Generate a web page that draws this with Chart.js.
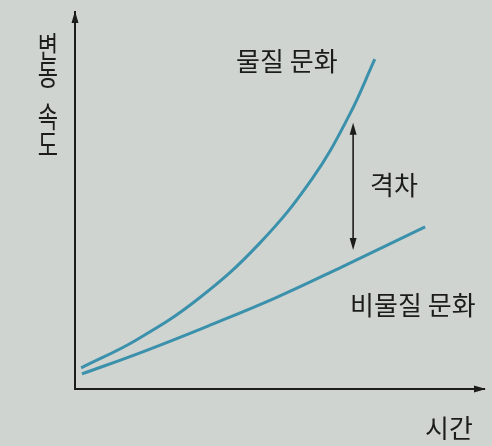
<!DOCTYPE html>
<html>
<head>
<meta charset="utf-8">
<script src="https://cdn.jsdelivr.net/npm/chart.js@4.4.1/dist/chart.umd.min.js"></script>
<style>
  html, body { margin: 0; padding: 0; background: #cfd4d1; }
  #wrap { width: 492px; height: 446px; }
</style>
</head>
<body>
<div id="wrap"><canvas id="chart"></canvas></div>
<script>
// 시간 / 변동 속도 (0~100 상대값)
const materialX   = [1.5, 15, 30, 45, 58, 67, 73.3];
const materialY   = [5.6, 13.0, 23.8, 38.5, 55.8, 72.5, 87.5];
const nonMatX     = [1.7, 16.4, 32.5, 48.9, 65.3, 85.6];
const nonMatY     = [4.0, 9.8, 16.7, 24.1, 32.4, 43.0];

const seriesNames = ['물질 문화', '비물질 문화'];
const gapLabel    = '격차';
const gapX        = 68.0;
const gapRange    = [36.9, 70.6];
const xTitle      = '시간';
const yTitle      = ['변', '동', '', '속', '도'];

const lineColor = '#3b91ab';
const inkColor  = '#1c1c1c';
const font = '"Noto Sans CJK KR", "Noto Sans", sans-serif';

function toPoints(xs, ys) {
    return xs.map((x, i) => ({ x, y: ys[i] }));
}

function arrowHead(ctx, x, y, dir) {
    // dir: 'up' | 'down' | 'right'
    ctx.beginPath();
    if (dir === 'up') {
        ctx.moveTo(x, y); ctx.lineTo(x - 3.5, y + 12); ctx.lineTo(x + 3.5, y + 12);
    } else if (dir === 'down') {
        ctx.moveTo(x, y); ctx.lineTo(x - 3.5, y - 12); ctx.lineTo(x + 3.5, y - 12);
    } else {
        ctx.moveTo(x, y); ctx.lineTo(x - 12, y - 3.5); ctx.lineTo(x - 12, y + 3.5);
    }
    ctx.closePath();
    ctx.fill();
}

const decorations = {
    id: 'decorations',
    afterDraw(chart) {
        const { ctx, chartArea: a, scales: { x, y } } = chart;
        ctx.save();
        ctx.fillStyle = inkColor;
        ctx.strokeStyle = inkColor;

        // axis arrowheads
        arrowHead(ctx, a.left, a.top - 1, 'up');
        ctx.lineWidth = 2;
        ctx.beginPath();
        ctx.moveTo(a.right - 4, a.bottom);
        ctx.lineTo(a.right + 1, a.bottom);
        ctx.stroke();
        arrowHead(ctx, a.right + 2, a.bottom, 'right');

        // gap arrow
        const gx = x.getPixelForValue(gapX);
        const gTop = y.getPixelForValue(gapRange[1]);
        const gBot = y.getPixelForValue(gapRange[0]);
        ctx.lineWidth = 1.6;
        ctx.beginPath();
        ctx.moveTo(gx, gTop + 8);
        ctx.lineTo(gx, gBot - 8);
        ctx.stroke();
        arrowHead(ctx, gx, gTop, 'up');
        arrowHead(ctx, gx, gBot, 'down');

        // text labels
        ctx.font = '26px ' + font;
        ctx.textAlign = 'center';
        ctx.textBaseline = 'middle';
        ctx.fillText(seriesNames[0], x.getPixelForValue(51.8), y.getPixelForValue(87.0));
        ctx.fillText(seriesNames[1], x.getPixelForValue(82.6), y.getPixelForValue(22.3));
        ctx.fillText(gapLabel, x.getPixelForValue(78.0), y.getPixelForValue(54.1));

        ctx.fillText(xTitle, a.right - 35, a.bottom + 39);

        // vertical y title, upright characters (slightly narrow and tall)
        let ty = a.top + 35;
        yTitle.forEach(ch => {
            if (ch) {
                ctx.save();
                ctx.translate(a.left - 27, ty);
                ctx.scale(0.85, 1.12);
                ctx.fillText(ch, 0, 0);
                ctx.restore();
                ty += 28;
            } else {
                ty += 14;
            }
        });
        ctx.restore();
    }
};

new Chart(document.getElementById('chart'), {
    type: 'line',
    data: {
        datasets: [
            { label: seriesNames[0], data: toPoints(materialX, materialY) },
            { label: seriesNames[1], data: toPoints(nonMatX, nonMatY) },
        ].map(ds => Object.assign(ds, {
            borderColor: lineColor,
            borderWidth: 3,
            pointRadius: 0,
            tension: 0.4,
            fill: false,
        }))
    },
    options: {
        responsive: true,
        maintainAspectRatio: false,
        animation: false,
        layout: { padding: { left: 75, top: 12, right: 8, bottom: 57 } },
        plugins: { legend: { display: false }, tooltip: { enabled: false } },
        scales: {
            x: {
                type: 'linear', min: 0, max: 100,
                grid: { display: false },
                ticks: { display: false },
                border: { display: true, color: inkColor, width: 2 },
                afterFit: s => { s.height = 0; },
            },
            y: {
                type: 'linear', min: 0, max: 100,
                grid: { display: false },
                ticks: { display: false },
                border: { display: true, color: inkColor, width: 2 },
                afterFit: s => { s.width = 0; },
            }
        }
    },
    plugins: [decorations]
});
</script>
</body>
</html>
